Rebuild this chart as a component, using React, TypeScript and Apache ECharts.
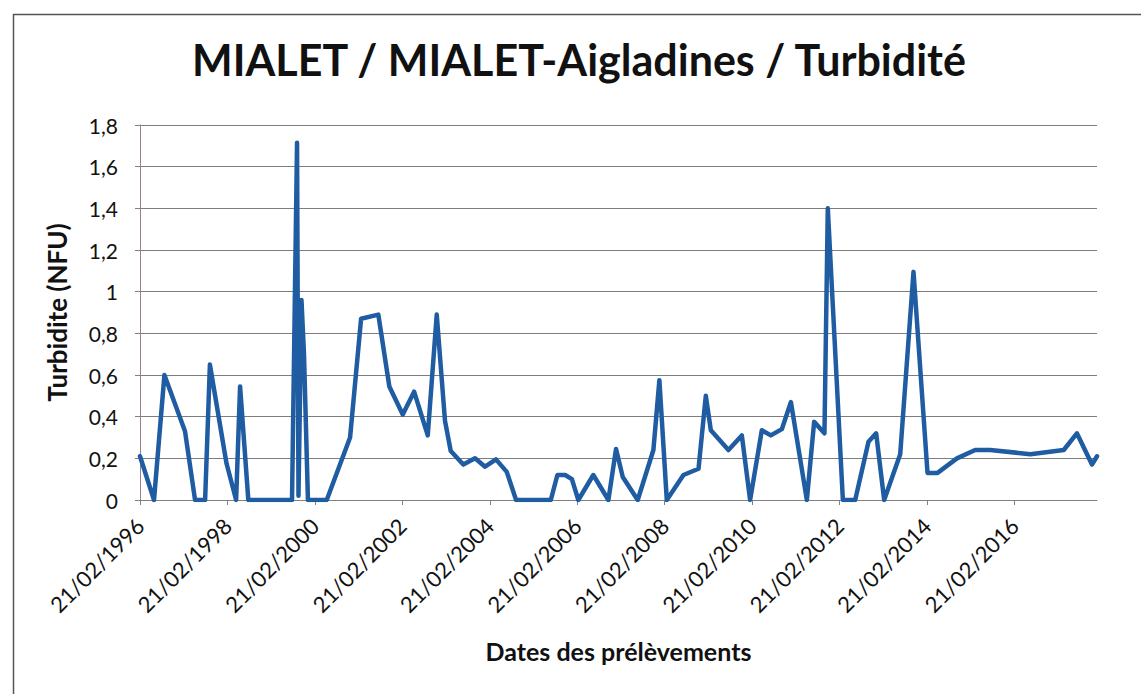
import React, { useEffect, useRef } from "react";
import * as echarts from "echarts";

const TITLE = "MIALET / MIALET-Aigladines / Turbidité";
const Y_NAME = "Turbidite (NFU)";
const X_NAME = "Dates des prélèvements";

const sampleDates = [
  "1996-02-21", "1996-06-17", "1996-09-12", "1997-03-03", "1997-05-26", "1997-08-18",
  "1997-09-27", "1998-02-13", "1998-05-04", "1998-06-06", "1998-08-14", "1999-08-14",
  "1999-09-25", "1999-10-07", "1999-11-01", "1999-11-22", "1999-12-25", "2000-05-30",
  "2000-12-11", "2001-03-13", "2001-08-04", "2001-11-04", "2002-02-24", "2002-05-30",
  "2002-09-21", "2002-12-05", "2003-02-12", "2003-04-01", "2003-07-15", "2003-10-21",
  "2004-01-13", "2004-04-13", "2004-07-12", "2004-09-28", "2005-07-15", "2005-09-08",
  "2005-11-12", "2006-01-07", "2006-03-02", "2006-07-05", "2006-11-08", "2007-01-11",
  "2007-03-08", "2007-07-11", "2007-11-19", "2008-01-08", "2008-03-10", "2008-07-27",
  "2008-11-30", "2009-01-30", "2009-03-13", "2009-08-07", "2009-11-27", "2010-02-04",
  "2010-05-13", "2010-07-27", "2010-10-27", "2011-01-11", "2011-05-24", "2011-07-24",
  "2011-10-18", "2011-11-15", "2012-03-20", "2012-07-01", "2012-10-20", "2012-12-23",
  "2013-02-28", "2013-07-12", "2013-10-31", "2014-02-25", "2014-05-20", "2014-10-29",
  "2015-03-30", "2015-08-03", "2016-07-03", "2017-04-08", "2017-07-27", "2017-11-30",
  "2018-01-11",
];

const turbidity = [
  0.21, 0, 0.6, 0.33, 0, 0,
  0.65, 0.175, 0, 0.545, 0, 0,
  1.715, 0.02, 0.96, 0.7, 0, 0,
  0.3, 0.87, 0.89, 0.545, 0.41, 0.52,
  0.31, 0.89, 0.38, 0.235, 0.17, 0.2,
  0.16, 0.195, 0.135, 0, 0, 0.12,
  0.12, 0.1, 0, 0.12, 0, 0.245,
  0.11, 0, 0.24, 0.575, 0, 0.12,
  0.15, 0.5, 0.335, 0.24, 0.31, 0,
  0.335, 0.31, 0.34, 0.47, 0, 0.375,
  0.32, 1.4, 0, 0, 0.28, 0.32,
  0, 0.22, 1.095, 0.13, 0.13, 0.2,
  0.24, 0.24, 0.22, 0.24, 0.32, 0.17,
  0.21,
];

const xTickDates = [
  "1996-02-21", "1998-02-21", "2000-02-21", "2002-02-21", "2004-02-21", "2006-02-21",
  "2008-02-21", "2010-02-21", "2012-02-21", "2014-02-21", "2016-02-21",
];

const yTicks = [0, 0.2, 0.4, 0.6, 0.8, 1, 1.2, 1.4, 1.6, 1.8];

const FONT = "Lato, 'Noto Sans', sans-serif";

const toTime = (s: string) => Date.parse(s + "T00:00:00Z");
const pad2 = (n: number) => (n < 10 ? "0" + n : "" + n);
const fmtDate = (v: number) => {
  const d = new Date(v + 12 * 3600 * 1000);
  return pad2(d.getUTCDate()) + "/" + pad2(d.getUTCMonth() + 1) + "/" + d.getUTCFullYear();
};

export default function App() {
  const ref = useRef<HTMLDivElement>(null);
  useEffect(() => {
    if (!ref.current) return;
    const chart = echarts.init(ref.current, undefined, { renderer: "svg" });
    const tickTimes = xTickDates.map(toTime);
    const data = sampleDates.map((d, i) => [toTime(d), turbidity[i]]);
    chart.setOption({
      animation: false,
      backgroundColor: "#ffffff",
      title: {
        text: TITLE,
        left: 579,
        top: 38,
        textAlign: "center",
        padding: 0,
        textStyle: { fontFamily: FONT, fontSize: 43, fontWeight: "bold", color: "#111" },
      },
      graphic: [
        {
          type: "rect",
          left: 11,
          top: 12,
          shape: { width: 1200, height: 800 },
          style: { fill: "none", stroke: "#555", lineWidth: 1.5 },
          silent: true,
        },
      ],
      grid: { left: 140, right: 44, top: 125, bottom: 194, containLabel: false },
      xAxis: {
        type: "value",
        min: toTime(sampleDates[0]),
        max: toTime(sampleDates[sampleDates.length - 1]),
        name: X_NAME,
        nameLocation: "middle",
        nameGap: 138,
        nameTextStyle: { fontFamily: FONT, fontSize: 25, fontWeight: "bold", color: "#111" },
        axisLine: { show: true, lineStyle: { color: "#808080", width: 1 } },
        axisTick: { show: true, length: 5, customValues: tickTimes, lineStyle: { color: "#808080" } },
        splitLine: { show: false },
        axisLabel: {
          customValues: tickTimes,
          rotate: 45,
          margin: 22,
          fontFamily: FONT,
          fontSize: 22,
          color: "#111",
          formatter: (v: number) => fmtDate(v),
        },
      },
      yAxis: {
        type: "value",
        min: 0,
        max: yTicks[yTicks.length - 1],
        interval: 0.2,
        name: Y_NAME,
        nameLocation: "middle",
        nameGap: 70,
        nameRotate: 90,
        nameTextStyle: { fontFamily: FONT, fontSize: 26, fontWeight: "bold", color: "#111" },
        axisLine: { show: true, lineStyle: { color: "#9a7f7f", width: 1 } },
        axisTick: { show: true, length: 5, lineStyle: { color: "#808080" } },
        splitLine: { show: true, lineStyle: { color: "#7d7d7d", width: 1 } },
        axisLabel: {
          margin: 22,
          fontFamily: FONT,
          fontSize: 21,
          color: "#111",
          formatter: (v: number) => String(Math.round(v * 10) / 10).replace(".", ","),
        },
      },
      series: [
        {
          type: "line",
          data,
          symbol: "none",
          lineStyle: { color: "#1f5ca2", width: 4.5, cap: "round", join: "round" },
          itemStyle: { color: "#1f5ca2" },
        },
      ],
    });
    return () => chart.dispose();
  }, []);
  return (
    <div
      ref={ref}
      style={{ position: "absolute", left: 0, top: 0, width: 1141, height: 694 }}
    />
  );
}
